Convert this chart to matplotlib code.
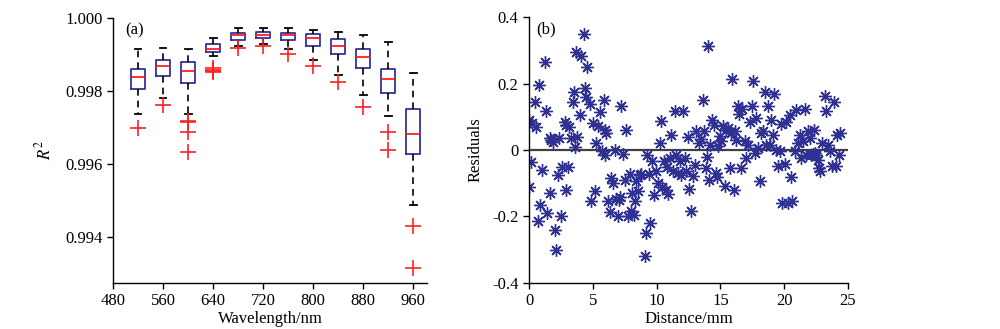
import numpy as np
import matplotlib
matplotlib.use('Agg')
import matplotlib.pyplot as plt

plt.rcParams['font.family'] = 'Liberation Serif'
plt.rcParams['mathtext.fontset'] = 'stix'
plt.rcParams['font.size'] = 12

# (a) box statistics per wavelength
wavelengths = [520, 560, 600, 640, 680, 720, 760, 800, 840, 880, 920, 960]
whis_hi = [0.99914, 0.99919, 0.99914, 0.99945, 0.99972, 0.99972, 0.99972, 0.99968, 0.99963, 0.99955, 0.99935, 0.99850]
q3 = [0.99860, 0.99886, 0.99881, 0.99928, 0.99960, 0.99962, 0.99960, 0.99956, 0.99942, 0.99914, 0.99860, 0.99750]
medians = [0.99838, 0.99868, 0.99855, 0.99915, 0.99955, 0.99955, 0.99955, 0.99946, 0.99923, 0.99892, 0.99834, 0.99682]
q1 = [0.99807, 0.99840, 0.99821, 0.99906, 0.99941, 0.99946, 0.99941, 0.99923, 0.99901, 0.99863, 0.99794, 0.99628]
whis_lo = [0.99736, 0.99780, 0.99736, 0.99895, 0.99923, 0.99928, 0.99914, 0.99886, 0.99845, 0.99789, 0.99732, 0.99487]
outliers = [
    [0.99698],
    [0.99762],
    [0.99718, 0.99716, 0.99689, 0.99632],
    [0.99862, 0.99859, 0.99856, 0.99853],
    [0.99919],
    [0.99923],
    [0.99902],
    [0.99869],
    [0.99826],
    [0.99757],
    [0.99689, 0.99639],
    [0.99431, 0.99314],
]

# (b) residuals vs distance
dist = [0.0, 0.0, 0.13, 0.26, 0.44, 0.52, 0.7, 0.78, 0.89, 1.04, 1.23, 1.36, 1.41, 1.62,
        1.62, 1.75, 1.88, 2.0, 2.14, 2.27, 2.35, 2.53, 2.61, 2.8, 2.88, 2.93, 3.06, 3.13,
        3.32, 3.45, 3.5, 3.58, 3.7, 3.76, 3.97, 4.1, 4.28, 4.36, 4.44, 4.55, 4.75, 4.88,
        5.0, 5.15, 5.22, 5.4, 5.54, 5.75, 5.85, 5.93, 6.06, 5.96, 6.19, 6.32, 6.45, 6.58,
        6.71, 6.84, 6.97, 7.05, 7.16, 7.24, 7.37, 7.5, 7.63, 7.76, 7.89, 8.02, 8.1, 8.2,
        8.28, 8.41, 8.54, 8.67, 8.8, 9.06, 9.14, 9.25, 9.4, 9.51, 9.67, 9.77, 9.98, 10.1,
        10.24, 10.37, 10.45, 10.55, 10.71, 10.82, 10.9, 11.02, 11.15, 11.29, 11.42, 11.55,
        11.68, 11.8, 11.94, 12.07, 12.2, 12.33, 12.46, 12.54, 12.72, 12.85, 13.01, 13.11,
        13.32, 13.45, 13.64, 13.71, 13.85, 13.95, 14.03, 14.1, 14.21, 14.37, 14.47, 14.63,
        14.73, 14.81, 14.94, 15.07, 15.2, 15.33, 15.47, 15.6, 15.73, 15.86, 15.93, 16.04,
        16.14, 16.25, 16.38, 16.46, 16.64, 16.72, 16.9, 17.03, 17.16, 17.35, 17.45, 17.55,
        17.69, 17.82, 17.95, 18.08, 18.21, 18.34, 18.47, 18.55, 18.73, 18.86, 18.99, 19.12,
        19.2, 19.38, 19.51, 19.64, 19.78, 19.85, 20.04, 20.11, 20.3, 20.43, 20.51, 20.64,
        20.82, 20.95, 21.08, 21.21, 21.34, 21.47, 21.6, 21.73, 21.86, 22.0, 22.13, 22.22,
        22.31, 22.39, 22.52, 22.65, 22.73, 22.83, 22.99, 23.17, 23.3, 23.43, 23.56, 23.77,
        23.88, 24.03, 24.14, 24.3, 24.4]
resid = [0.091, -0.11, -0.035, 0.08, 0.145, 0.07, -0.215, 0.195, -0.165, -0.06, 0.265, 0.118,
         -0.19, -0.13, 0.035, 0.03, 0.025, -0.24, -0.30, -0.075, 0.035, -0.20, -0.05, 0.085,
         0.074, -0.12, -0.05, 0.068, 0.035, 0.146, 0.175, 0.01, 0.295, 0.04, 0.104, 0.282,
         0.35, 0.187, 0.161, 0.249, 0.138, -0.152, 0.081, -0.124, 0.021, 0.071, 0.114, -0.002,
         0.151, 0.061, 0.05, -0.014, -0.154, -0.186, -0.084, -0.10, 0.0, -0.146, -0.20,
         -0.149, -0.14, 0.131, -0.012, -0.09, 0.061, -0.20, -0.072, -0.182, -0.13, -0.195,
         -0.152, -0.094, -0.122, -0.074, -0.072, -0.318, -0.25, -0.014, -0.072, -0.22, -0.034,
         -0.136, -0.062, -0.10, 0.021, 0.086, -0.11, -0.034, -0.12, -0.05, -0.132, -0.024,
         0.046, -0.064, 0.118, -0.014, -0.069, -0.032, -0.076, 0.116, -0.024, -0.062, 0.038,
         -0.116, -0.184, -0.079, -0.046, 0.058, 0.021, 0.034, 0.151, 0.058, -0.054, -0.022,
         0.314, -0.089, 0.014, 0.091, 0.076, -0.069, -0.082, 0.011, 0.041, 0.026, 0.071,
         -0.109, 0.061, 0.066, -0.054, 0.051, 0.215, -0.12, 0.058, 0.031, 0.131, 0.108,
         -0.054, 0.124, 0.026, -0.024, 0.016, 0.084, 0.131, 0.209, -0.009, 0.096, 0.006,
         -0.092, 0.051, 0.056, 0.176, 0.014, 0.131, 0.016, 0.091, 0.044, 0.168, 0.001,
         -0.049, -0.004, 0.078, -0.159, -0.042, 0.084, -0.159, 0.106, -0.082, -0.152, -0.004,
         0.121, 0.021, 0.046, -0.024, 0.026, 0.124, -0.016, 0.056, 0.036, -0.014, -0.012,
         0.061, -0.009, -0.016, -0.029, -0.054, -0.062, 0.021, 0.164, 0.118, 0.016, -0.002,
         -0.049, 0.144, -0.049, 0.046, -0.016, 0.051]

fig = plt.figure(figsize=(10, 3.29), dpi=100)

# ---- panel (a)
ax1 = fig.add_axes([0.113, 0.140, 0.314, 0.805])
stats = []
for i in range(len(wavelengths)):
    stats.append(dict(med=medians[i], q1=q1[i], q3=q3[i], whislo=whis_lo[i],
                      whishi=whis_hi[i], fliers=outliers[i]))
ax1.bxp(stats, positions=wavelengths, widths=22, capwidths=11, manage_ticks=False,
        boxprops=dict(color='#2f3399', linewidth=1.3),
        medianprops=dict(color='#ff2020', linewidth=1.3),
        whiskerprops=dict(color='black', linewidth=1.2, linestyle=(0, (4, 3))),
        capprops=dict(color='black', linewidth=1.3),
        flierprops=dict(marker='+', markeredgecolor='#ff2020', markersize=11,
                        markeredgewidth=1.2, linestyle='none'))
ax1.set_xlim(480, 982)
ax1.set_ylim(0.99274, 1.0)
ax1.set_xticks([480, 560, 640, 720, 800, 880, 960])
ax1.set_yticks([0.994, 0.996, 0.998, 1.000])
ax1.set_yticklabels(['0.994', '0.996', '0.998', '1.000'])
ax1.set_xlabel('Wavelength/nm', labelpad=1)
ax1.set_ylabel('$R^2$', labelpad=8)
ax1.text(0.04, 0.955, '(a)', transform=ax1.transAxes, va='center', ha='left')

# ---- panel (b)
ax2 = fig.add_axes([0.529, 0.140, 0.319, 0.808])
ax2.axhline(0, color='#404040', linewidth=1.6, zorder=1)
ax2.plot(dist, resid, linestyle='none', marker=(8, 2, 0), markersize=9,
         markeredgewidth=1.0, color='#2e3192', zorder=2)
ax2.set_xlim(0, 25)
ax2.set_ylim(-0.4, 0.4)
ax2.set_xticks([0, 5, 10, 15, 20, 25])
ax2.set_yticks([-0.4, -0.2, 0, 0.2, 0.4])
ax2.set_yticklabels(['-0.4', '-0.2', '0', '0.2', '0.4'])
ax2.set_xlabel('Distance/mm', labelpad=1)
ax2.set_ylabel('Residuals', labelpad=6)
ax2.text(0.022, 0.955, '(b)', transform=ax2.transAxes, va='center', ha='left')

for ax in (ax1, ax2):
    ax.spines['top'].set_visible(False)
    ax.spines['right'].set_visible(False)
    ax.spines['left'].set_linewidth(1.0)
    ax.spines['bottom'].set_linewidth(1.0)
    ax.tick_params(direction='out', length=4, width=1.0, labelsize=12)

fig.savefig('out.png', dpi=100)
